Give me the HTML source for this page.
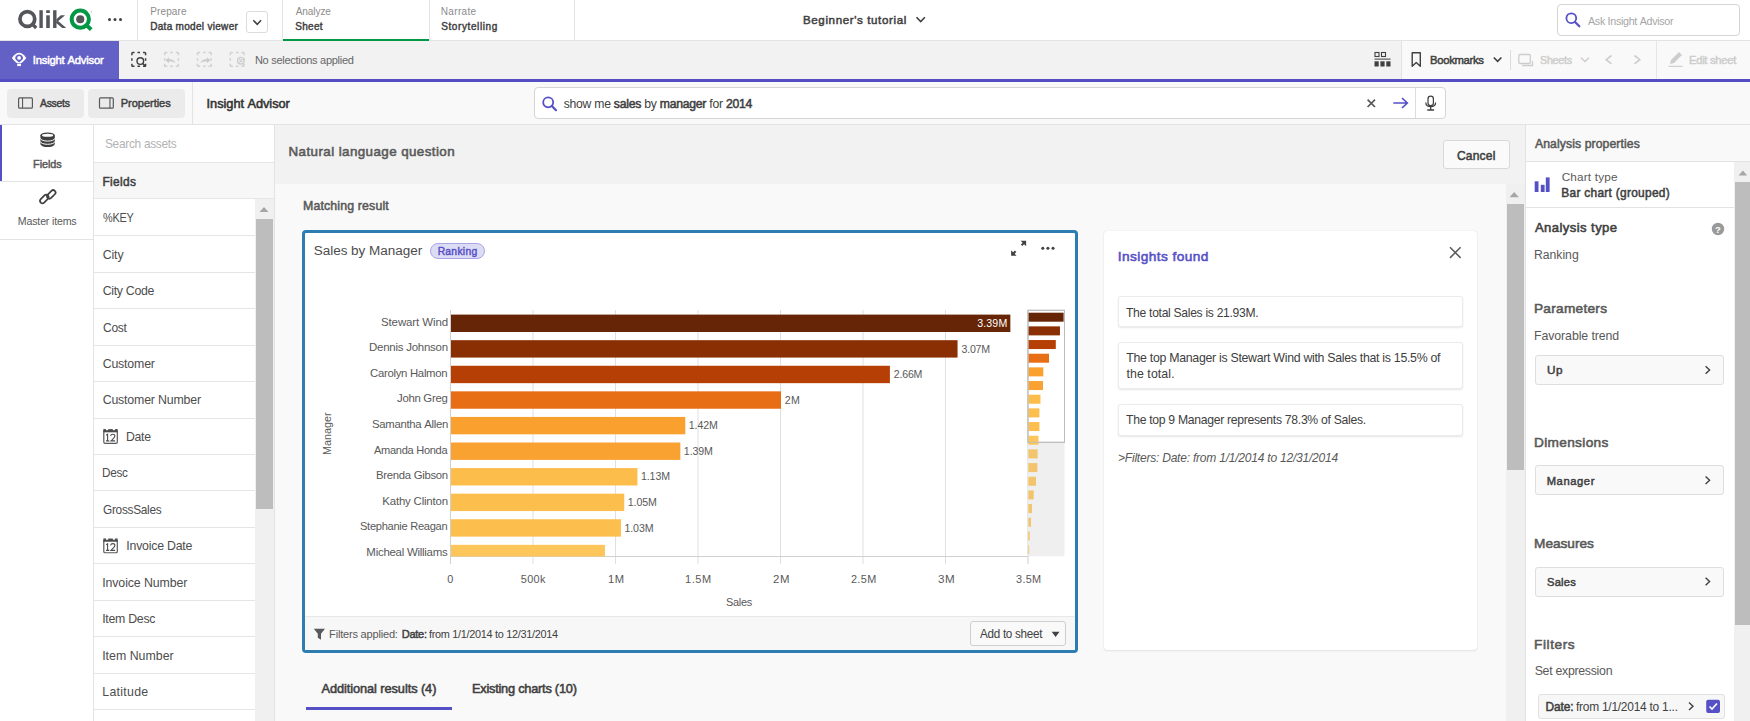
<!DOCTYPE html><html><head><meta charset="utf-8"><style>
html,body{margin:0;padding:0;width:1750px;height:721px;overflow:hidden;background:#f9f9f9;}
div{box-sizing:border-box;}
body>div{line-height:1;white-space:nowrap;font-kerning:none;}
svg{position:absolute;overflow:visible;}
</style></head><body>
<div style="position:absolute;left:0px;top:0px;width:1750px;height:41px;background:#fff;border-bottom:1px solid #e3e3e3;"></div>
<svg style="left:0;top:0" width="1" height="1">
      <circle cx="27.35" cy="19" r="7.4" fill="none" stroke="#54565a" stroke-width="3.7"/>
      <path d="M32.6 24.4 L36.2 28" stroke="#54565a" stroke-width="3.4" stroke-linecap="butt"/>
      <rect x="39.4" y="10.2" width="3.4" height="17.8" fill="#54565a"/>
      <rect x="46.2" y="10.2" width="3.6" height="2.8" fill="#54565a"/>
      <rect x="46.2" y="15.3" width="3.6" height="12.7" fill="#54565a"/>
      <rect x="53.1" y="10.2" width="3.4" height="17.8" fill="#54565a"/>
      <path d="M56.3 22.8 L65.1 15.3 L60.8 15.3 L56.3 19.2 Z" fill="#54565a"/>
      <path d="M58.2 21.0 L66.2 28 L62.2 28 L55.6 22.4 Z" fill="#54565a"/>
      <circle cx="80.3" cy="19.2" r="8.6" fill="none" stroke="#009845" stroke-width="4"/>
      <circle cx="80.25" cy="19.2" r="4.05" fill="#54565a"/>
      <path d="M86.2 24.9 L91.2 29.6" stroke="#009845" stroke-width="4"/>
      <circle cx="91.3" cy="11.7" r="0.7" fill="#bbb"/>
      <circle cx="109.5" cy="19.5" r="1.5" fill="#404040"/><circle cx="115" cy="19.5" r="1.5" fill="#404040"/><circle cx="120.5" cy="19.5" r="1.5" fill="#404040"/>
    </svg>
<div style="position:absolute;left:137px;top:0px;width:1px;height:40px;background:#e3e3e3;"></div>
<div style="position:absolute;left:150.18px;top:7.00px;font-family:'Liberation Sans',sans-serif;font-size:10.03px;font-weight:normal;font-style:normal;letter-spacing:0.131px;color:#8c8c8c;">Prepare</div>
<div style="position:absolute;left:150.18px;top:22.00px;font-family:'Liberation Sans',sans-serif;font-size:10.03px;font-weight:normal;font-style:normal;letter-spacing:0.296px;color:#404040;-webkit-text-stroke:0.42px #404040;">Data model viewer</div>
<div style="position:absolute;left:246px;top:11px;width:22px;height:22px;border:1px solid #dcdcdc;border-radius:3px;background:#fff;"></div>
<svg style="left:0;top:0" width="1" height="1"><path d="M253.3 20.2 L257.2 24.3 L261.1 20.2" fill="none" stroke="#404040" stroke-width="1.5"/></svg>
<div style="position:absolute;left:282px;top:0px;width:1px;height:40px;background:#e3e3e3;"></div>
<div style="position:absolute;left:283px;top:39px;width:146px;height:2px;background:#009845;"></div>
<div style="position:absolute;left:295.78px;top:7.00px;font-family:'Liberation Sans',sans-serif;font-size:10.03px;font-weight:normal;font-style:normal;letter-spacing:-0.086px;color:#8c8c8c;">Analyze</div>
<div style="position:absolute;left:295.34px;top:22.00px;font-family:'Liberation Sans',sans-serif;font-size:10.03px;font-weight:normal;font-style:normal;letter-spacing:0.255px;color:#404040;-webkit-text-stroke:0.42px #404040;">Sheet</div>
<div style="position:absolute;left:429px;top:0px;width:1px;height:40px;background:#e3e3e3;"></div>
<div style="position:absolute;left:440.78px;top:7.00px;font-family:'Liberation Sans',sans-serif;font-size:10.03px;font-weight:normal;font-style:normal;letter-spacing:0.338px;color:#8c8c8c;">Narrate</div>
<div style="position:absolute;left:441.14px;top:22.00px;font-family:'Liberation Sans',sans-serif;font-size:10.03px;font-weight:normal;font-style:normal;letter-spacing:0.600px;color:#404040;-webkit-text-stroke:0.42px #404040;">Storytelling</div>
<div style="position:absolute;left:574px;top:0px;width:1px;height:40px;background:#e3e3e3;"></div>
<div style="position:absolute;left:802.75px;top:15.00px;font-family:'Liberation Sans',sans-serif;font-size:11.34px;font-weight:normal;font-style:normal;letter-spacing:0.600px;color:#404040;transform:scaleX(1.0211);transform-origin:0 0;-webkit-text-stroke:0.48px #404040;">Beginner&#x27;s tutorial</div>
<svg style="left:0;top:0" width="1" height="1"><path d="M916.5 17.3 L920.7 21.6 L924.9 17.3" fill="none" stroke="#404040" stroke-width="1.6"/></svg>
<div style="position:absolute;left:1557px;top:4px;width:183px;height:32px;border:1px solid #d5d5d5;border-radius:4px;background:#fff;"></div>
<svg style="left:0;top:0" width="1" height="1"><circle cx="1571.3" cy="18.2" r="4.9" fill="none" stroke="#5650c6" stroke-width="1.8"/><path d="M1574.8 21.8 L1579.3 26.3" stroke="#5650c6" stroke-width="2.2" stroke-linecap="round"/></svg>
<div style="position:absolute;left:1587.98px;top:16.00px;font-family:'Liberation Sans',sans-serif;font-size:10.76px;font-weight:normal;font-style:normal;letter-spacing:-0.300px;color:#a6a6a6;transform:scaleX(0.9946);transform-origin:0 0;">Ask Insight Advisor</div>
<div style="position:absolute;left:0px;top:41px;width:1750px;height:38px;background:#f2f2f2;"></div>
<div style="position:absolute;left:1401px;top:41px;width:349px;height:38px;background:#f9f9f9;border-left:1px solid #e3e3e3;"></div>
<div style="position:absolute;left:0px;top:41px;width:119px;height:38px;background:#6360c6;"></div>
<div style="position:absolute;left:0px;top:79px;width:1750px;height:3px;background:#554dc3;"></div>
<svg style="left:0;top:0" width="1" height="1">
      <path d="M11.9 57.9 C14.5 54.3 16.8 52.8 19.1 52.8 C21.4 52.8 23.7 54.3 26.3 57.9 C24.5 60.4 22.8 62 21.3 63 L16.9 63 C15.4 62 13.7 60.4 11.9 57.9 Z" fill="#fff"/>
      <path d="M19.1 54.5 C21.2 54.5 23 56.1 23 58.1 C23 59.6 21.8 60.6 19.1 62.4 C16.4 60.6 15.2 59.6 15.2 58.1 C15.2 56.1 17 54.5 19.1 54.5 Z" fill="#6360c6"/>
      <circle cx="19.1" cy="57.9" r="1.9" fill="#fff"/>
      <rect x="17.2" y="63.6" width="3.8" height="2.5" fill="#fff"/>
    </svg>
<div style="position:absolute;left:32.75px;top:55.00px;font-family:'Liberation Sans',sans-serif;font-size:11.34px;font-weight:normal;font-style:normal;letter-spacing:-0.237px;color:#ffffff;-webkit-text-stroke:0.48px #ffffff;">Insight Advisor</div>
<svg style="left:0;top:0" width="1" height="1"><path d="M131.9 55.2 L131.9 53.4 Q131.9 52.6 132.70000000000002 52.6 L134.5 52.6 M143.0 52.6 L144.79999999999998 52.6 Q145.6 52.6 145.6 53.4 L145.6 55.2 M131.9 63.699999999999996 L131.9 65.5 Q131.9 66.3 132.70000000000002 66.3 L134.5 66.3 M143.0 66.3 L144.79999999999998 66.3 Q145.6 66.3 145.6 65.5 L145.6 63.699999999999996 M137.45 52.6 L140.05 52.6 M137.45 66.3 L140.05 66.3 M131.9 58.150000000000006 L131.9 60.75 M145.6 58.150000000000006 L145.6 60.75" fill="none" stroke="#404040" stroke-width="1.5"/><circle cx="140.3" cy="61.1" r="3.3" fill="none" stroke="#404040" stroke-width="1.4"/><path d="M142.7 63.5 L145.6 66.3" stroke="#404040" stroke-width="1.7"/><path d="M164.7 55.2 L164.7 53.4 Q164.7 52.6 165.5 52.6 L167.29999999999998 52.6 M175.8 52.6 L177.6 52.6 Q178.4 52.6 178.4 53.4 L178.4 55.2 M164.7 63.699999999999996 L164.7 65.5 Q164.7 66.3 165.5 66.3 L167.29999999999998 66.3 M175.8 66.3 L177.6 66.3 Q178.4 66.3 178.4 65.5 L178.4 63.699999999999996 M170.25 52.6 L172.85000000000002 52.6 M170.25 66.3 L172.85000000000002 66.3 M164.7 58.150000000000006 L164.7 60.75 M178.4 58.150000000000006 L178.4 60.75" fill="none" stroke="#d0d0d0" stroke-width="1.5"/><path d="M165.3 60.2 L169 57.2 L169 59 C172 59 174.5 60.2 175.5 62.8 C173.8 61.6 171.5 61.4 169 61.4 L169 63.2 Z" fill="#cdcdcd"/><path d="M197.5 55.2 L197.5 53.4 Q197.5 52.6 198.3 52.6 L200.1 52.6 M208.6 52.6 L210.39999999999998 52.6 Q211.2 52.6 211.2 53.4 L211.2 55.2 M197.5 63.699999999999996 L197.5 65.5 Q197.5 66.3 198.3 66.3 L200.1 66.3 M208.6 66.3 L210.39999999999998 66.3 Q211.2 66.3 211.2 65.5 L211.2 63.699999999999996 M203.04999999999998 52.6 L205.65 52.6 M203.04999999999998 66.3 L205.65 66.3 M197.5 58.150000000000006 L197.5 60.75 M211.2 58.150000000000006 L211.2 60.75" fill="none" stroke="#d0d0d0" stroke-width="1.5"/><path d="M210.6 60.2 L206.9 57.2 L206.9 59 C203.9 59 201.4 60.2 200.4 62.8 C202.1 61.6 204.4 61.4 206.9 61.4 L206.9 63.2 Z" fill="#cdcdcd"/><path d="M230.3 55.2 L230.3 53.4 Q230.3 52.6 231.10000000000002 52.6 L232.9 52.6 M241.4 52.6 L243.2 52.6 Q244.0 52.6 244.0 53.4 L244.0 55.2 M230.3 63.699999999999996 L230.3 65.5 Q230.3 66.3 231.10000000000002 66.3 L232.9 66.3 M241.4 66.3 L243.2 66.3 Q244.0 66.3 244.0 65.5 L244.0 63.699999999999996 M235.85 52.6 L238.45000000000002 52.6 M235.85 66.3 L238.45000000000002 66.3 M230.3 58.150000000000006 L230.3 60.75 M244.0 58.150000000000006 L244.0 60.75" fill="none" stroke="#d0d0d0" stroke-width="1.5"/><circle cx="240.8" cy="60.7" r="3.3" fill="none" stroke="#cdcdcd" stroke-width="1.3"/><path d="M239.2 59.1 L242.4 62.3 M242.4 59.1 L239.2 62.3" stroke="#cdcdcd" stroke-width="1.2"/></svg>
<div style="position:absolute;left:254.90px;top:55.00px;font-family:'Liberation Sans',sans-serif;font-size:11.05px;font-weight:normal;font-style:normal;letter-spacing:-0.300px;color:#666666;">No selections applied</div>
<svg style="left:0;top:0" width="1" height="1">
      <rect x="1375" y="52.5" width="4" height="4" fill="none" stroke="#404040" stroke-width="1.1"/>
      <rect x="1381.5" y="52.5" width="4" height="4" fill="none" stroke="#404040" stroke-width="1.1"/>
      <rect x="1374.5" y="58.6" width="16" height="1" fill="#404040"/>
      <rect x="1374.5" y="61.3" width="4.2" height="5.2" fill="#404040"/>
      <rect x="1380.4" y="61.3" width="4.2" height="5.2" fill="#404040"/>
      <rect x="1386.3" y="61.3" width="4.2" height="5.2" fill="#404040"/>
      <path d="M1412.2 52.8 L1420.3 52.8 L1420.3 66.3 L1416.25 62.5 L1412.2 66.3 Z" fill="none" stroke="#404040" stroke-width="1.4" stroke-linejoin="round"/>
      <path d="M1493.8 57.5 L1497.6 61.3 L1501.4 57.5" fill="none" stroke="#404040" stroke-width="1.6"/>
      <rect x="1510" y="50" width="1" height="20" fill="#dcdcdc"/>
      <rect x="1518.8" y="54.5" width="11.5" height="9" rx="1" fill="none" stroke="#cdcdcd" stroke-width="1.3"/>
      <path d="M1522 65.5 L1532.5 65.5 L1532.5 61" fill="none" stroke="#cdcdcd" stroke-width="1.3"/>
      <path d="M1581 57.8 L1585 61.6 L1589 57.8" fill="none" stroke="#cdcdcd" stroke-width="1.4"/>
      <path d="M1611.5 55.5 L1606.2 59.7 L1611.5 63.9" fill="none" stroke="#cdcdcd" stroke-width="1.6"/>
      <path d="M1634.5 55.5 L1639.8 59.7 L1634.5 63.9" fill="none" stroke="#cdcdcd" stroke-width="1.6"/>
      <rect x="1656" y="41" width="1" height="38" fill="#e6e6e6"/>
      <path d="M1670 64 L1671 60 L1679 52 L1682 55 L1674 63 Z" fill="#cdcdcd"/>
      <rect x="1668.5" y="65.8" width="14" height="1.1" fill="#cdcdcd"/>
    </svg>
<div style="position:absolute;left:1430.37px;top:55.00px;font-family:'Liberation Sans',sans-serif;font-size:11.34px;font-weight:normal;font-style:normal;letter-spacing:-0.300px;color:#404040;transform:scaleX(0.9950);transform-origin:0 0;-webkit-text-stroke:0.48px #404040;">Bookmarks</div>
<div style="position:absolute;left:1539.91px;top:55.00px;font-family:'Liberation Sans',sans-serif;font-size:11.34px;font-weight:normal;font-style:normal;letter-spacing:-0.300px;color:#cdcdcd;transform:scaleX(0.9492);transform-origin:0 0;-webkit-text-stroke:0.48px #cdcdcd;">Sheets</div>
<div style="position:absolute;left:1688.68px;top:55.00px;font-family:'Liberation Sans',sans-serif;font-size:11.34px;font-weight:normal;font-style:normal;letter-spacing:-0.300px;color:#cdcdcd;transform:scaleX(0.9934);transform-origin:0 0;-webkit-text-stroke:0.48px #cdcdcd;">Edit sheet</div>
<div style="position:absolute;left:0px;top:82px;width:1750px;height:43px;background:#f9f9f9;border-bottom:1px solid #e3e3e3;"></div>
<div style="position:absolute;left:7px;top:88.5px;width:77px;height:29px;background:#ebebeb;border-radius:4px;"></div>
<div style="position:absolute;left:88px;top:88.5px;width:96.5px;height:29px;background:#ebebeb;border-radius:4px;"></div>
<svg style="left:0;top:0" width="1" height="1">
      <rect x="18.6" y="97.9" width="13.8" height="10.3" rx="1" fill="none" stroke="#595959" stroke-width="1.2"/>
      <rect x="22" y="97.9" width="1.1" height="10.3" fill="#595959"/>
      <rect x="99.5" y="97.9" width="13.8" height="10.3" rx="1" fill="none" stroke="#595959" stroke-width="1.2"/>
      <rect x="109.4" y="97.9" width="1.1" height="10.3" fill="#595959"/>
    </svg>
<div style="position:absolute;left:40.18px;top:98.00px;font-family:'Liberation Sans',sans-serif;font-size:11.05px;font-weight:normal;font-style:normal;letter-spacing:-0.300px;color:#404040;transform:scaleX(0.9446);transform-origin:0 0;-webkit-text-stroke:0.46px #404040;">Assets</div>
<div style="position:absolute;left:120.79px;top:98.00px;font-family:'Liberation Sans',sans-serif;font-size:11.05px;font-weight:normal;font-style:normal;letter-spacing:-0.049px;color:#404040;-webkit-text-stroke:0.46px #404040;">Properties</div>
<div style="position:absolute;left:192px;top:82px;width:1px;height:42px;background:#e3e3e3;"></div>
<div style="position:absolute;left:206.62px;top:98.00px;font-family:'Liberation Sans',sans-serif;font-size:12.79px;font-weight:normal;font-style:normal;letter-spacing:-0.043px;color:#333333;-webkit-text-stroke:0.54px #333333;">Insight Advisor</div>
<div style="position:absolute;left:534px;top:87.3px;width:912px;height:31.4px;background:#fff;border:1px solid #d5d5d5;border-radius:4px;"></div>
<div style="position:absolute;left:1415px;top:88px;width:1px;height:30px;background:#dcdcdc;"></div>
<svg style="left:0;top:0" width="1" height="1">
      <circle cx="548.2" cy="102.3" r="5" fill="none" stroke="#5650c6" stroke-width="1.8"/><path d="M551.8 106 L556 110.2" stroke="#5650c6" stroke-width="2.2" stroke-linecap="round"/>
      <path d="M1367.6 99.6 L1375 107 M1375 99.6 L1367.6 107" stroke="#595959" stroke-width="1.7"/>
      <path d="M1393.3 103 L1407 103 M1402 98 L1407.3 103 L1402 108" fill="none" stroke="#5650c6" stroke-width="1.7"/>
      <rect x="1428" y="96.2" width="5.4" height="9.5" rx="2.7" fill="none" stroke="#404040" stroke-width="1.2"/>
      <path d="M1425.8 102.5 C1425.8 108 1435.6 108 1435.6 102.5" fill="none" stroke="#404040" stroke-width="1.2"/>
      <path d="M1430.7 106.6 L1430.7 109.8 M1427.3 110 L1434.1 110" stroke="#404040" stroke-width="1.3"/>
    </svg>
<div style="position:absolute;left:0px;top:125px;width:93px;height:596px;background:#fff;"></div>
<div style="position:absolute;left:93px;top:125px;width:1px;height:596px;background:#e3e3e3;"></div>
<div style="position:absolute;left:0px;top:125px;width:2px;height:56px;background:#5650c6;"></div>
<div style="position:absolute;left:0px;top:181px;width:93px;height:1px;background:#e3e3e3;"></div>
<div style="position:absolute;left:0px;top:238.5px;width:93px;height:1px;background:#e3e3e3;"></div>
<svg style="left:0;top:0" width="1" height="1">
      <path d="M40.4 135.3 A7.2 2.9 0 0 1 54.8 135.3 L54.8 144.1 A7.2 2.9 0 0 1 40.4 144.1 Z" fill="#404040"/>
      <ellipse cx="47.6" cy="135.3" rx="5.6" ry="1.5" fill="#fff"/>
      <path d="M40.4 138.3 A7.2 2.8 0 0 0 54.8 138.3" fill="none" stroke="#fff" stroke-width="1"/>
      <path d="M40.4 141.5 A7.2 2.8 0 0 0 54.8 141.5" fill="none" stroke="#fff" stroke-width="1"/>
      <rect x="46.3" y="192" width="10" height="4.8" rx="2.4" transform="rotate(-45 51.3 194.4)" fill="none" stroke="#404040" stroke-width="1.7"/>
      <rect x="39.3" y="196.6" width="10" height="4.8" rx="2.4" transform="rotate(-45 44.3 199)" fill="none" stroke="#404040" stroke-width="1.7"/>
    </svg>
<div style="position:absolute;left:33.11px;top:159.00px;font-family:'Liberation Sans',sans-serif;font-size:10.90px;font-weight:normal;font-style:normal;letter-spacing:-0.098px;color:#595959;-webkit-text-stroke:0.46px #595959;">Fields</div>
<div style="position:absolute;left:17.83px;top:216.00px;font-family:'Liberation Sans',sans-serif;font-size:10.61px;font-weight:normal;font-style:normal;letter-spacing:-0.170px;color:#595959;">Master items</div>
<div style="position:absolute;left:94px;top:125px;width:180px;height:596px;background:#fff;"></div>
<div style="position:absolute;left:94px;top:162px;width:180px;height:1px;background:#e6e6e6;"></div>
<div style="position:absolute;left:104.96px;top:139.00px;font-family:'Liberation Sans',sans-serif;font-size:11.92px;font-weight:normal;font-style:normal;letter-spacing:-0.300px;color:#b3b3b3;">Search assets</div>
<div style="position:absolute;left:94px;top:163px;width:180px;height:36px;background:#f7f7f7;border-bottom:1px solid #e6e6e6;"></div>
<div style="position:absolute;left:102.42px;top:177.00px;font-family:'Liberation Sans',sans-serif;font-size:11.92px;font-weight:normal;font-style:normal;letter-spacing:0.363px;color:#404040;-webkit-text-stroke:0.50px #404040;">Fields</div>
<div style="position:absolute;left:94px;top:235.17px;width:161px;height:1px;background:#e6e6e6;"></div>
<div style="position:absolute;left:102.91px;top:212.00px;font-family:'Liberation Sans',sans-serif;font-size:12.35px;font-weight:normal;font-style:normal;letter-spacing:-0.300px;color:#4d4d4d;transform:scaleX(0.8828);transform-origin:0 0;">%KEY</div>
<div style="position:absolute;left:94px;top:271.64px;width:161px;height:1px;background:#e6e6e6;"></div>
<div style="position:absolute;left:102.67px;top:249.00px;font-family:'Liberation Sans',sans-serif;font-size:12.35px;font-weight:normal;font-style:normal;letter-spacing:-0.108px;color:#4d4d4d;">City</div>
<div style="position:absolute;left:94px;top:308.10999999999996px;width:161px;height:1px;background:#e6e6e6;"></div>
<div style="position:absolute;left:102.67px;top:285.00px;font-family:'Liberation Sans',sans-serif;font-size:12.35px;font-weight:normal;font-style:normal;letter-spacing:-0.296px;color:#4d4d4d;">City Code</div>
<div style="position:absolute;left:94px;top:344.58px;width:161px;height:1px;background:#e6e6e6;"></div>
<div style="position:absolute;left:102.69px;top:322.00px;font-family:'Liberation Sans',sans-serif;font-size:12.35px;font-weight:normal;font-style:normal;letter-spacing:-0.300px;color:#4d4d4d;transform:scaleX(0.9754);transform-origin:0 0;">Cost</div>
<div style="position:absolute;left:94px;top:381.05px;width:161px;height:1px;background:#e6e6e6;"></div>
<div style="position:absolute;left:102.67px;top:358.00px;font-family:'Liberation Sans',sans-serif;font-size:12.35px;font-weight:normal;font-style:normal;letter-spacing:-0.174px;color:#4d4d4d;">Customer</div>
<div style="position:absolute;left:94px;top:417.52px;width:161px;height:1px;background:#e6e6e6;"></div>
<div style="position:absolute;left:102.67px;top:394.00px;font-family:'Liberation Sans',sans-serif;font-size:12.35px;font-weight:normal;font-style:normal;letter-spacing:-0.171px;color:#4d4d4d;">Customer Number</div>
<div style="position:absolute;left:94px;top:453.98999999999995px;width:161px;height:1px;background:#e6e6e6;"></div>
<svg style="left:0;top:0" width="1" height="1"><g transform="translate(0 -0.08)">
              <rect x="103.8" y="431" width="13.5" height="12.4" rx="1.3" fill="none" stroke="#595959" stroke-width="1.2"/>
              <rect x="103.2" y="430.6" width="14.6" height="1.8" fill="#4d4d4d"/>
              <rect x="103.4" y="429.1" width="2.5" height="2.5" fill="#4d4d4d"/>
              <rect x="108.2" y="429.2" width="4.6" height="2" fill="#4d4d4d"/>
              <rect x="115.1" y="429.1" width="2.5" height="2.5" fill="#4d4d4d"/>
              <path d="M106.2 435.4 L107.6 434.4 L107.6 441 M106 441 L109.2 441" fill="none" stroke="#4d4d4d" stroke-width="1.1"/>
              <path d="M110.6 436 C110.8 434.8 111.8 434.3 112.8 434.3 C114.1 434.3 114.9 435.1 114.9 436.2 C114.9 437.6 113.6 438.5 110.9 441 L115.1 441" fill="none" stroke="#4d4d4d" stroke-width="1.1"/>
            </g></svg>
<div style="position:absolute;left:126.49px;top:431.00px;font-family:'Liberation Sans',sans-serif;font-size:12.35px;font-weight:normal;font-style:normal;letter-spacing:-0.300px;color:#4d4d4d;transform:scaleX(0.9943);transform-origin:0 0;">Date</div>
<div style="position:absolute;left:94px;top:490.46px;width:161px;height:1px;background:#e6e6e6;"></div>
<div style="position:absolute;left:102.33px;top:467.00px;font-family:'Liberation Sans',sans-serif;font-size:12.35px;font-weight:normal;font-style:normal;letter-spacing:-0.300px;color:#4d4d4d;transform:scaleX(0.9534);transform-origin:0 0;">Desc</div>
<div style="position:absolute;left:94px;top:526.9300000000001px;width:161px;height:1px;background:#e6e6e6;"></div>
<div style="position:absolute;left:102.70px;top:504.00px;font-family:'Liberation Sans',sans-serif;font-size:12.35px;font-weight:normal;font-style:normal;letter-spacing:-0.300px;color:#4d4d4d;transform:scaleX(0.9603);transform-origin:0 0;">GrossSales</div>
<div style="position:absolute;left:94px;top:563.4000000000001px;width:161px;height:1px;background:#e6e6e6;"></div>
<svg style="left:0;top:0" width="1" height="1"><g transform="translate(0 109.33)">
              <rect x="103.8" y="431" width="13.5" height="12.4" rx="1.3" fill="none" stroke="#595959" stroke-width="1.2"/>
              <rect x="103.2" y="430.6" width="14.6" height="1.8" fill="#4d4d4d"/>
              <rect x="103.4" y="429.1" width="2.5" height="2.5" fill="#4d4d4d"/>
              <rect x="108.2" y="429.2" width="4.6" height="2" fill="#4d4d4d"/>
              <rect x="115.1" y="429.1" width="2.5" height="2.5" fill="#4d4d4d"/>
              <path d="M106.2 435.4 L107.6 434.4 L107.6 441 M106 441 L109.2 441" fill="none" stroke="#4d4d4d" stroke-width="1.1"/>
              <path d="M110.6 436 C110.8 434.8 111.8 434.3 112.8 434.3 C114.1 434.3 114.9 435.1 114.9 436.2 C114.9 437.6 113.6 438.5 110.9 441 L115.1 441" fill="none" stroke="#4d4d4d" stroke-width="1.1"/>
            </g></svg>
<div style="position:absolute;left:126.36px;top:540.00px;font-family:'Liberation Sans',sans-serif;font-size:12.35px;font-weight:normal;font-style:normal;letter-spacing:-0.235px;color:#4d4d4d;">Invoice Date</div>
<div style="position:absolute;left:94px;top:599.87px;width:161px;height:1px;background:#e6e6e6;"></div>
<div style="position:absolute;left:102.16px;top:577.00px;font-family:'Liberation Sans',sans-serif;font-size:12.35px;font-weight:normal;font-style:normal;letter-spacing:-0.090px;color:#4d4d4d;">Invoice Number</div>
<div style="position:absolute;left:94px;top:636.34px;width:161px;height:1px;background:#e6e6e6;"></div>
<div style="position:absolute;left:102.16px;top:613.00px;font-family:'Liberation Sans',sans-serif;font-size:12.35px;font-weight:normal;font-style:normal;letter-spacing:-0.280px;color:#4d4d4d;">Item Desc</div>
<div style="position:absolute;left:94px;top:672.8100000000001px;width:161px;height:1px;background:#e6e6e6;"></div>
<div style="position:absolute;left:102.16px;top:650.00px;font-family:'Liberation Sans',sans-serif;font-size:12.35px;font-weight:normal;font-style:normal;letter-spacing:0.014px;color:#4d4d4d;">Item Number</div>
<div style="position:absolute;left:94px;top:709.28px;width:161px;height:1px;background:#e6e6e6;"></div>
<div style="position:absolute;left:102.29px;top:686.00px;font-family:'Liberation Sans',sans-serif;font-size:12.35px;font-weight:normal;font-style:normal;letter-spacing:0.285px;color:#4d4d4d;">Latitude</div>
<div style="position:absolute;left:94px;top:745.75px;width:161px;height:1px;background:#e6e6e6;"></div>
<div style="position:absolute;left:102.29px;top:723.00px;font-family:'Liberation Sans',sans-serif;font-size:12.35px;font-weight:normal;font-style:normal;letter-spacing:-0.127px;color:#4d4d4d;">Longitude</div>
<div style="position:absolute;left:255px;top:199px;width:19px;height:522px;background:#f0f0f0;"></div>
<svg style="left:0;top:0" width="1" height="1"><path d="M259.5 212 L264 207 L268.5 212 Z" fill="#a6a6a6"/></svg>
<div style="position:absolute;left:256px;top:219px;width:17px;height:290px;background:#bdbdbd;"></div>
<div style="position:absolute;left:274px;top:125px;width:1px;height:596px;background:#e3e3e3;"></div>
<div style="position:absolute;left:275px;top:125px;width:1250px;height:59px;background:#f2f2f2;"></div>
<div style="position:absolute;left:288.50px;top:145.00px;font-family:'Liberation Sans',sans-serif;font-size:13.37px;font-weight:normal;font-style:normal;letter-spacing:0.423px;color:#595959;-webkit-text-stroke:0.56px #595959;">Natural language question</div>
<div style="position:absolute;left:1442.5px;top:140px;width:67px;height:29px;background:#fafafa;border:1px solid #d9d9d9;border-radius:3px;"></div>
<div style="position:absolute;left:1456.99px;top:150.00px;font-family:'Liberation Sans',sans-serif;font-size:12.06px;font-weight:normal;font-style:normal;letter-spacing:0.173px;color:#404040;-webkit-text-stroke:0.51px #404040;">Cancel</div>
<div style="position:absolute;left:275px;top:184px;width:1231px;height:537px;background:#f9f9f9;"></div>
<div style="position:absolute;left:302.99px;top:200.00px;font-family:'Liberation Sans',sans-serif;font-size:12.35px;font-weight:normal;font-style:normal;letter-spacing:0.145px;color:#595959;-webkit-text-stroke:0.52px #595959;">Matching result</div>
<div style="position:absolute;left:1506px;top:184px;width:19.5px;height:537px;background:#f0f0f0;"></div>
<svg style="left:0;top:0" width="1" height="1"><path d="M1509.5 197.3 L1514.2 192 L1518.9 197.3 Z" fill="#a6a6a6"/></svg>
<div style="position:absolute;left:1507px;top:203.7px;width:17px;height:266px;background:#bdbdbd;"></div>
<div style="position:absolute;left:302px;top:230px;width:776px;height:423px;background:#fff;border:3px solid #2d7db1;border-radius:4px;"></div>
<div style="position:absolute;left:305px;top:616.3px;width:770px;height:33.7px;background:#f7f7f7;border-top:1px solid #e8e8e8;"></div>
<div style="position:absolute;left:313.69px;top:244.00px;font-family:'Liberation Sans',sans-serif;font-size:13.52px;font-weight:normal;font-style:normal;letter-spacing:-0.028px;color:#4d4d4d;">Sales by Manager</div>
<div style="position:absolute;left:429.7px;top:243.2px;width:55px;height:15.8px;background:#dddcf5;border:1px solid #a9a6e6;border-radius:8px;"></div>
<div style="position:absolute;left:437.65px;top:247.00px;font-family:'Liberation Sans',sans-serif;font-size:10.32px;font-weight:normal;font-style:normal;letter-spacing:0.275px;color:#5650c6;-webkit-text-stroke:0.43px #5650c6;">Ranking</div>
<svg style="left:0;top:0" width="1" height="1">
      <path d="M1020.6 240.8 L1026.1 240.8 L1026.1 246.3 Z" fill="#404040"/><path d="M1021.6 245.3 L1024.3 242.6" stroke="#404040" stroke-width="2"/>
      <path d="M1011.1 250.3 L1011.1 255.8 L1016.6 255.8 Z" fill="#404040"/><path d="M1012.6 254.3 L1015.6 251.3" stroke="#404040" stroke-width="2"/>
      <circle cx="1042.8" cy="248.2" r="1.5" fill="#404040"/><circle cx="1047.9" cy="248.2" r="1.5" fill="#404040"/><circle cx="1053" cy="248.2" r="1.5" fill="#404040"/>
    </svg>
<svg style="left:0;top:0" width="1" height="1"><rect x="532.50" y="310" width="1" height="254" fill="#e0e0e0"/><rect x="615.00" y="310" width="1" height="254" fill="#e0e0e0"/><rect x="697.50" y="310" width="1" height="254" fill="#e0e0e0"/><rect x="780.00" y="310" width="1" height="254" fill="#e0e0e0"/><rect x="862.50" y="310" width="1" height="254" fill="#e0e0e0"/><rect x="945.00" y="310" width="1" height="254" fill="#e0e0e0"/><rect x="1027.50" y="310" width="1" height="254" fill="#d0d0d0"/><rect x="450.00" y="310" width="1" height="254" fill="#d0d0d0"/><rect x="450.50" y="556" width="577.50" height="1" fill="#d0d0d0"/><rect x="451.00" y="314.60" width="559.35" height="17.40" fill="#662506"/><rect x="451.00" y="340.18" width="506.55" height="17.40" fill="#8a2f03"/><rect x="451.00" y="365.76" width="438.90" height="17.40" fill="#b53f04"/><rect x="451.00" y="391.34" width="330.00" height="17.40" fill="#e86e15"/><rect x="451.00" y="416.92" width="234.30" height="17.40" fill="#f9a02f"/><rect x="451.00" y="442.50" width="229.35" height="17.40" fill="#f9a232"/><rect x="451.00" y="468.08" width="186.45" height="17.40" fill="#fcbd4b"/><rect x="451.00" y="493.66" width="173.25" height="17.40" fill="#fcbe4c"/><rect x="451.00" y="519.24" width="169.95" height="17.40" fill="#fcbf4e"/><rect x="451.00" y="544.82" width="153.95" height="11.68" fill="#fdc65b"/><rect x="1028.00" y="310.3" width="36.5" height="246" fill="#efefef"/><rect x="1028.00" y="310.3" width="36.5" height="132" fill="#fff" stroke="#bdbdbd" stroke-width="1"/><rect x="1028.30" y="312.70" width="35.30" height="9" fill="#662506" opacity="1"/><rect x="1028.30" y="326.37" width="31.66" height="9" fill="#8a2f03" opacity="1"/><rect x="1028.30" y="340.04" width="27.49" height="9" fill="#b53f04" opacity="1"/><rect x="1028.30" y="353.71" width="20.72" height="9" fill="#e86e15" opacity="1"/><rect x="1028.30" y="367.38" width="14.99" height="9" fill="#f9a02f" opacity="1"/><rect x="1028.30" y="381.05" width="14.68" height="9" fill="#f9a232" opacity="1"/><rect x="1028.30" y="394.72" width="12.18" height="9" fill="#fcbd4b" opacity="1"/><rect x="1028.30" y="408.39" width="11.14" height="9" fill="#fcbe4c" opacity="1"/><rect x="1028.30" y="422.06" width="11.14" height="9" fill="#fcbf4e" opacity="1"/><rect x="1028.30" y="435.73" width="10.20" height="9" fill="#fdc65b" opacity="1"/><rect x="1028.30" y="449.40" width="9.27" height="9" fill="#f2bc55" opacity="0.85"/><rect x="1028.30" y="463.07" width="9.06" height="9" fill="#f2bc55" opacity="0.85"/><rect x="1028.30" y="476.74" width="7.71" height="9" fill="#f2bc55" opacity="0.85"/><rect x="1028.30" y="490.41" width="5.41" height="9" fill="#f2bc55" opacity="0.85"/><rect x="1028.30" y="504.08" width="3.64" height="9" fill="#f2bc55" opacity="0.85"/><rect x="1028.30" y="517.75" width="2.71" height="9" fill="#f2bc55" opacity="0.85"/><rect x="1028.30" y="531.42" width="1.46" height="9" fill="#f2bc55" opacity="0.85"/><rect x="1028.30" y="545.09" width="0.83" height="9" fill="#f2bc55" opacity="0.85"/><rect x="1028.00" y="310.3" width="36.5" height="132" fill="none" stroke="#bdbdbd" stroke-width="1"/></svg>
<div style="position:absolute;left:380.98px;top:317.00px;font-family:'Liberation Sans',sans-serif;font-size:11.48px;font-weight:normal;font-style:normal;letter-spacing:-0.102px;color:#595959;">Stewart Wind</div>
<div style="position:absolute;left:977.20px;top:318.00px;font-family:'Liberation Sans',sans-serif;font-size:10.61px;font-weight:normal;font-style:normal;letter-spacing:0.146px;color:#ffffff;">3.39M</div>
<div style="position:absolute;left:369.06px;top:342.00px;font-family:'Liberation Sans',sans-serif;font-size:11.48px;font-weight:normal;font-style:normal;letter-spacing:-0.251px;color:#595959;">Dennis Johnson</div>
<div style="position:absolute;left:961.45px;top:344.00px;font-family:'Liberation Sans',sans-serif;font-size:10.61px;font-weight:normal;font-style:normal;letter-spacing:-0.204px;color:#595959;">3.07M</div>
<div style="position:absolute;left:370.42px;top:368.00px;font-family:'Liberation Sans',sans-serif;font-size:11.48px;font-weight:normal;font-style:normal;letter-spacing:-0.300px;color:#595959;transform:scaleX(0.9910);transform-origin:0 0;">Carolyn Halmon</div>
<div style="position:absolute;left:893.67px;top:369.00px;font-family:'Liberation Sans',sans-serif;font-size:10.61px;font-weight:normal;font-style:normal;letter-spacing:-0.171px;color:#595959;">2.66M</div>
<div style="position:absolute;left:397.32px;top:393.00px;font-family:'Liberation Sans',sans-serif;font-size:11.48px;font-weight:normal;font-style:normal;letter-spacing:-0.300px;color:#595959;transform:scaleX(0.9921);transform-origin:0 0;">John Greg</div>
<div style="position:absolute;left:784.77px;top:395.00px;font-family:'Liberation Sans',sans-serif;font-size:10.61px;font-weight:normal;font-style:normal;letter-spacing:0.364px;color:#595959;">2M</div>
<div style="position:absolute;left:371.78px;top:419.00px;font-family:'Liberation Sans',sans-serif;font-size:11.48px;font-weight:normal;font-style:normal;letter-spacing:-0.300px;color:#595959;transform:scaleX(0.9895);transform-origin:0 0;">Samantha Allen</div>
<div style="position:absolute;left:688.79px;top:420.00px;font-family:'Liberation Sans',sans-serif;font-size:10.61px;font-weight:normal;font-style:normal;letter-spacing:-0.103px;color:#595959;">1.42M</div>
<div style="position:absolute;left:373.68px;top:445.00px;font-family:'Liberation Sans',sans-serif;font-size:11.48px;font-weight:normal;font-style:normal;letter-spacing:-0.300px;color:#595959;transform:scaleX(0.9637);transform-origin:0 0;">Amanda Honda</div>
<div style="position:absolute;left:683.84px;top:446.00px;font-family:'Liberation Sans',sans-serif;font-size:10.61px;font-weight:normal;font-style:normal;letter-spacing:-0.103px;color:#595959;">1.39M</div>
<div style="position:absolute;left:375.97px;top:470.00px;font-family:'Liberation Sans',sans-serif;font-size:11.48px;font-weight:normal;font-style:normal;letter-spacing:-0.300px;color:#595959;transform:scaleX(0.9886);transform-origin:0 0;">Brenda Gibson</div>
<div style="position:absolute;left:640.94px;top:471.00px;font-family:'Liberation Sans',sans-serif;font-size:10.61px;font-weight:normal;font-style:normal;letter-spacing:-0.103px;color:#595959;">1.13M</div>
<div style="position:absolute;left:382.36px;top:496.00px;font-family:'Liberation Sans',sans-serif;font-size:11.48px;font-weight:normal;font-style:normal;letter-spacing:-0.209px;color:#595959;">Kathy Clinton</div>
<div style="position:absolute;left:627.74px;top:497.00px;font-family:'Liberation Sans',sans-serif;font-size:10.61px;font-weight:normal;font-style:normal;letter-spacing:-0.103px;color:#595959;">1.05M</div>
<div style="position:absolute;left:360.40px;top:521.00px;font-family:'Liberation Sans',sans-serif;font-size:11.48px;font-weight:normal;font-style:normal;letter-spacing:-0.300px;color:#595959;transform:scaleX(0.9680);transform-origin:0 0;">Stephanie Reagan</div>
<div style="position:absolute;left:624.44px;top:523.00px;font-family:'Liberation Sans',sans-serif;font-size:10.61px;font-weight:normal;font-style:normal;letter-spacing:-0.103px;color:#595959;">1.03M</div>
<div style="position:absolute;left:366.36px;top:547.00px;font-family:'Liberation Sans',sans-serif;font-size:11.48px;font-weight:normal;font-style:normal;letter-spacing:-0.269px;color:#595959;">Micheal Williams</div>
<div style="position:absolute;left:447.17px;top:574.00px;font-family:'Liberation Sans',sans-serif;font-size:10.90px;font-weight:normal;font-style:normal;letter-spacing:0.000px;color:#595959;">0</div>
<div style="position:absolute;left:520.76px;top:574.00px;font-family:'Liberation Sans',sans-serif;font-size:10.90px;font-weight:normal;font-style:normal;letter-spacing:0.361px;color:#595959;">500k</div>
<div style="position:absolute;left:607.75px;top:574.00px;font-family:'Liberation Sans',sans-serif;font-size:10.90px;font-weight:normal;font-style:normal;letter-spacing:0.600px;color:#595959;transform:scaleX(1.0272);transform-origin:0 0;">1M</div>
<div style="position:absolute;left:685.16px;top:574.00px;font-family:'Liberation Sans',sans-serif;font-size:10.90px;font-weight:normal;font-style:normal;letter-spacing:0.600px;color:#595959;transform:scaleX(1.0078);transform-origin:0 0;">1.5M</div>
<div style="position:absolute;left:772.92px;top:574.00px;font-family:'Liberation Sans',sans-serif;font-size:10.90px;font-weight:normal;font-style:normal;letter-spacing:0.600px;color:#595959;transform:scaleX(1.0489);transform-origin:0 0;">2M</div>
<div style="position:absolute;left:850.95px;top:574.00px;font-family:'Liberation Sans',sans-serif;font-size:10.90px;font-weight:normal;font-style:normal;letter-spacing:0.369px;color:#595959;">2.5M</div>
<div style="position:absolute;left:937.56px;top:574.00px;font-family:'Liberation Sans',sans-serif;font-size:10.90px;font-weight:normal;font-style:normal;letter-spacing:0.600px;color:#595959;transform:scaleX(1.0669);transform-origin:0 0;">3M</div>
<div style="position:absolute;left:1016.08px;top:574.00px;font-family:'Liberation Sans',sans-serif;font-size:10.90px;font-weight:normal;font-style:normal;letter-spacing:0.292px;color:#595959;">3.5M</div>
<div style="position:absolute;left:726.20px;top:597.00px;font-family:'Liberation Sans',sans-serif;font-size:11.34px;font-weight:normal;font-style:normal;letter-spacing:-0.300px;color:#595959;transform:scaleX(0.9644);transform-origin:0 0;">Sales</div>
<div style="position:absolute;left:311px;top:427px;width:42px;height:12px;"></div>
<div style="position:absolute;left:332.3px;top:454.4px;transform:rotate(-90deg) scaleX(0.937);transform-origin:0 0;font-family:'Liberation Sans';font-size:11.48px;color:#595959;line-height:1;"><span style="position:absolute;left:-0.94px;top:-9.72px">Manager</span></div>
<svg style="left:0;top:0" width="1" height="1">
      <path d="M313.8 628.8 L325 628.8 L321 633.8 L321 639.8 L317.8 637.8 L317.8 633.8 Z" fill="#595959"/>
    </svg>
<div style="position:absolute;left:329.09px;top:629.00px;font-family:'Liberation Sans',sans-serif;font-size:11.05px;font-weight:normal;font-style:normal;letter-spacing:-0.201px;color:#595959;">Filters applied:</div>
<div style="position:absolute;left:401.69px;top:629.00px;font-family:'Liberation Sans',sans-serif;font-size:11.05px;font-weight:normal;font-style:normal;letter-spacing:-0.272px;color:#404040;-webkit-text-stroke:0.46px #404040;">Date:</div>
<div style="position:absolute;left:429.35px;top:629.00px;font-family:'Liberation Sans',sans-serif;font-size:11.05px;font-weight:normal;font-style:normal;letter-spacing:-0.300px;color:#404040;transform:scaleX(0.9845);transform-origin:0 0;">from 1/1/2014 to 12/31/2014</div>
<div style="position:absolute;left:970px;top:621.3px;width:95.5px;height:25px;background:#f9f9f9;border:1px solid #cfcfcf;border-radius:3px;"></div>
<div style="position:absolute;left:980.08px;top:628.00px;font-family:'Liberation Sans',sans-serif;font-size:12.35px;font-weight:normal;font-style:normal;letter-spacing:-0.300px;color:#404040;transform:scaleX(0.9460);transform-origin:0 0;">Add to sheet</div>
<svg style="left:0;top:0" width="1" height="1"><path d="M1051.7 631.8 L1059.5 631.8 L1055.6 637 Z" fill="#404040"/></svg>
<div style="position:absolute;left:1104px;top:230.8px;width:373px;height:419.5px;background:#fff;border-radius:3px;box-shadow:0 0 1px rgba(0,0,0,0.18),0 1px 2px rgba(0,0,0,0.08);"></div>
<div style="position:absolute;left:1117.84px;top:250.00px;font-family:'Liberation Sans',sans-serif;font-size:13.66px;font-weight:normal;font-style:normal;letter-spacing:0.428px;color:#5650c6;-webkit-text-stroke:0.57px #5650c6;">Insights found</div>
<svg style="left:0;top:0" width="1" height="1"><path d="M1450 247.3 L1460.6 257.9 M1460.6 247.3 L1450 257.9" stroke="#595959" stroke-width="1.5"/></svg>
<div style="position:absolute;left:1118.3px;top:295.7px;width:345px;height:31.69999999999999px;background:#fff;border:1px solid #ebebeb;border-radius:3px;box-shadow:0 1px 2px rgba(0,0,0,0.10);"></div>
<div style="position:absolute;left:1118.3px;top:341.9px;width:345px;height:47.60000000000002px;background:#fff;border:1px solid #ebebeb;border-radius:3px;box-shadow:0 1px 2px rgba(0,0,0,0.10);"></div>
<div style="position:absolute;left:1118.3px;top:403.9px;width:345px;height:31.700000000000045px;background:#fff;border:1px solid #ebebeb;border-radius:3px;box-shadow:0 1px 2px rgba(0,0,0,0.10);"></div>
<div style="position:absolute;left:1126.33px;top:307.00px;font-family:'Liberation Sans',sans-serif;font-size:12.35px;font-weight:normal;font-style:normal;letter-spacing:-0.300px;color:#404040;transform:scaleX(0.9811);transform-origin:0 0;">The total Sales is 21.93M.</div>
<div style="position:absolute;left:1126.32px;top:352.00px;font-family:'Liberation Sans',sans-serif;font-size:12.35px;font-weight:normal;font-style:normal;letter-spacing:-0.297px;color:#404040;">The top Manager is Stewart Wind with Sales that is 15.5% of</div>
<div style="position:absolute;left:1126.41px;top:368.00px;font-family:'Liberation Sans',sans-serif;font-size:12.35px;font-weight:normal;font-style:normal;letter-spacing:0.091px;color:#404040;">the total.</div>
<div style="position:absolute;left:1126.33px;top:414.00px;font-family:'Liberation Sans',sans-serif;font-size:12.35px;font-weight:normal;font-style:normal;letter-spacing:-0.300px;color:#404040;transform:scaleX(0.9878);transform-origin:0 0;">The top 9 Manager represents 78.3% of Sales.</div>
<div style="position:absolute;left:1118.03px;top:452.00px;font-family:'Liberation Sans',sans-serif;font-size:12.06px;font-weight:normal;font-style:italic;letter-spacing:-0.236px;color:#595959;">&gt;Filters: Date: from 1/1/2014 to 12/31/2014</div>
<div style="position:absolute;left:321.48px;top:683.00px;font-family:'Liberation Sans',sans-serif;font-size:12.79px;font-weight:normal;font-style:normal;letter-spacing:-0.075px;color:#404040;-webkit-text-stroke:0.54px #404040;">Additional results (4)</div>
<div style="position:absolute;left:471.95px;top:683.00px;font-family:'Liberation Sans',sans-serif;font-size:12.79px;font-weight:normal;font-style:normal;letter-spacing:-0.233px;color:#404040;-webkit-text-stroke:0.54px #404040;">Existing charts (10)</div>
<div style="position:absolute;left:306px;top:707.3px;width:145.8px;height:2.4px;background:#5650c6;"></div>
<div style="position:absolute;left:1525px;top:125px;width:225px;height:596px;background:#fff;border-left:1px solid #e3e3e3;"></div>
<div style="position:absolute;left:1526px;top:125px;width:224px;height:37px;background:#f9f9f9;border-bottom:1px solid #e3e3e3;"></div>
<div style="position:absolute;left:1534.98px;top:138.00px;font-family:'Liberation Sans',sans-serif;font-size:12.21px;font-weight:normal;font-style:normal;letter-spacing:0.095px;color:#595959;-webkit-text-stroke:0.51px #595959;">Analysis properties</div>
<div style="position:absolute;left:1526px;top:206.8px;width:208px;height:1px;background:#e3e3e3;"></div>
<svg style="left:0;top:0" width="1" height="1">
      <rect x="1534.7" y="181.3" width="3.8" height="10.7" fill="#5650c6"/>
      <rect x="1540.8" y="184.8" width="3.8" height="7.2" fill="#5650c6"/>
      <rect x="1545.8" y="177.4" width="3.8" height="14.6" fill="#5650c6"/>
    </svg>
<div style="position:absolute;left:1561.70px;top:171.00px;font-family:'Liberation Sans',sans-serif;font-size:11.77px;font-weight:normal;font-style:normal;letter-spacing:0.168px;color:#595959;">Chart type</div>
<div style="position:absolute;left:1561.32px;top:188.00px;font-family:'Liberation Sans',sans-serif;font-size:11.92px;font-weight:normal;font-style:normal;letter-spacing:0.287px;color:#404040;-webkit-text-stroke:0.50px #404040;">Bar chart (grouped)</div>
<div style="position:absolute;left:1734px;top:162px;width:16px;height:559px;background:#f0f0f0;"></div>
<svg style="left:0;top:0" width="1" height="1"><path d="M1738.6 175.5 L1742.9 170.6 L1747.2 175.5 Z" fill="#a6a6a6"/></svg>
<div style="position:absolute;left:1735px;top:182.3px;width:15px;height:442.7px;background:#bdbdbd;"></div>
<div style="position:absolute;left:1534.97px;top:221.00px;font-family:'Liberation Sans',sans-serif;font-size:13.08px;font-weight:normal;font-style:normal;letter-spacing:0.420px;color:#404040;-webkit-text-stroke:0.55px #404040;">Analysis type</div>
<svg style="left:0;top:0" width="1" height="1"><circle cx="1718" cy="229" r="6.2" fill="#999"/>
      <text x="1718" y="232.6" text-anchor="middle" font-family="Liberation Sans" font-weight="bold" font-size="9.5" fill="#fff">?</text></svg>
<div style="position:absolute;left:1534.00px;top:249.00px;font-family:'Liberation Sans',sans-serif;font-size:12.21px;font-weight:normal;font-style:normal;letter-spacing:-0.018px;color:#595959;">Ranking</div>
<div style="position:absolute;left:1533.98px;top:302.00px;font-family:'Liberation Sans',sans-serif;font-size:13.66px;font-weight:normal;font-style:normal;letter-spacing:0.267px;color:#595959;-webkit-text-stroke:0.57px #595959;">Parameters</div>
<div style="position:absolute;left:1534.09px;top:330.00px;font-family:'Liberation Sans',sans-serif;font-size:12.35px;font-weight:normal;font-style:normal;letter-spacing:-0.102px;color:#595959;">Favorable trend</div>
<div style="position:absolute;left:1535px;top:354.9px;width:189.4px;height:30.30000000000001px;background:#f9f9f9;border:1px solid #dedede;border-radius:3px;"></div>
<div style="position:absolute;left:1546.70px;top:365.00px;font-family:'Liberation Sans',sans-serif;font-size:11.19px;font-weight:normal;font-style:normal;letter-spacing:0.600px;color:#404040;transform:scaleX(1.0462);transform-origin:0 0;-webkit-text-stroke:0.47px #404040;">Up</div>
<svg style="left:0;top:0" width="1" height="1"><path d="M1705.6 366.25 L1709.6 370.05 L1705.6 373.85" fill="none" stroke="#404040" stroke-width="1.4"/></svg>
<div style="position:absolute;left:1533.98px;top:436.00px;font-family:'Liberation Sans',sans-serif;font-size:13.66px;font-weight:normal;font-style:normal;letter-spacing:0.338px;color:#595959;-webkit-text-stroke:0.57px #595959;">Dimensions</div>
<div style="position:absolute;left:1535px;top:465.3px;width:189.4px;height:29.899999999999977px;background:#f9f9f9;border:1px solid #dedede;border-radius:3px;"></div>
<div style="position:absolute;left:1546.68px;top:476.00px;font-family:'Liberation Sans',sans-serif;font-size:11.19px;font-weight:normal;font-style:normal;letter-spacing:0.589px;color:#404040;-webkit-text-stroke:0.47px #404040;">Manager</div>
<svg style="left:0;top:0" width="1" height="1"><path d="M1705.6 476.45 L1709.6 480.25 L1705.6 484.05" fill="none" stroke="#404040" stroke-width="1.4"/></svg>
<div style="position:absolute;left:1534.08px;top:537.00px;font-family:'Liberation Sans',sans-serif;font-size:13.66px;font-weight:normal;font-style:normal;letter-spacing:-0.025px;color:#595959;-webkit-text-stroke:0.57px #595959;">Measures</div>
<div style="position:absolute;left:1535px;top:566.5px;width:189.4px;height:30.0px;background:#f9f9f9;border:1px solid #dedede;border-radius:3px;"></div>
<div style="position:absolute;left:1547.09px;top:577.00px;font-family:'Liberation Sans',sans-serif;font-size:11.19px;font-weight:normal;font-style:normal;letter-spacing:0.179px;color:#404040;-webkit-text-stroke:0.47px #404040;">Sales</div>
<svg style="left:0;top:0" width="1" height="1"><path d="M1705.6 577.70 L1709.6 581.50 L1705.6 585.30" fill="none" stroke="#404040" stroke-width="1.4"/></svg>
<div style="position:absolute;left:1534.08px;top:638.00px;font-family:'Liberation Sans',sans-serif;font-size:13.66px;font-weight:normal;font-style:normal;letter-spacing:0.554px;color:#595959;-webkit-text-stroke:0.57px #595959;">Filters</div>
<div style="position:absolute;left:1534.64px;top:665.00px;font-family:'Liberation Sans',sans-serif;font-size:12.35px;font-weight:normal;font-style:normal;letter-spacing:-0.289px;color:#595959;">Set expression</div>
<div style="position:absolute;left:1537.7px;top:693.6px;width:187.5px;height:25.5px;background:#f7f7f7;border:1px solid #e0e0e0;border-radius:3px;"></div>
<div style="position:absolute;left:1545.62px;top:702.00px;font-family:'Liberation Sans',sans-serif;font-size:11.92px;font-weight:normal;font-style:normal;letter-spacing:-0.105px;color:#404040;-webkit-text-stroke:0.50px #404040;">Date:</div>
<div style="position:absolute;left:1575.93px;top:702.00px;font-family:'Liberation Sans',sans-serif;font-size:11.92px;font-weight:normal;font-style:normal;letter-spacing:-0.226px;color:#404040;">from 1/1/2014 to 1...</div>
<svg style="left:0;top:0" width="1" height="1">
      <path d="M1689 702.5 L1693 706.3 L1689 710.1" fill="none" stroke="#404040" stroke-width="1.4"/>
      <rect x="1706.2" y="699.8" width="13.8" height="13.2" rx="2" fill="#5650c6"/>
      <path d="M1709.5 706.5 L1712 709 L1717 703.5" fill="none" stroke="#fff" stroke-width="1.6"/>
    </svg>
<div style="position:absolute;left:563.66px;top:98.00px;font-family:'Liberation Sans',sans-serif;font-size:12.21px;letter-spacing:-0.253px;color:#404040;"><span style="font-weight:normal;">show me </span><span style="font-weight:normal;-webkit-text-stroke:0.51px #404040;">sales</span><span style="font-weight:normal;"> by </span><span style="font-weight:normal;-webkit-text-stroke:0.51px #404040;">manager</span><span style="font-weight:normal;"> for </span><span style="font-weight:normal;-webkit-text-stroke:0.51px #404040;">2014</span></div>
</body></html>
